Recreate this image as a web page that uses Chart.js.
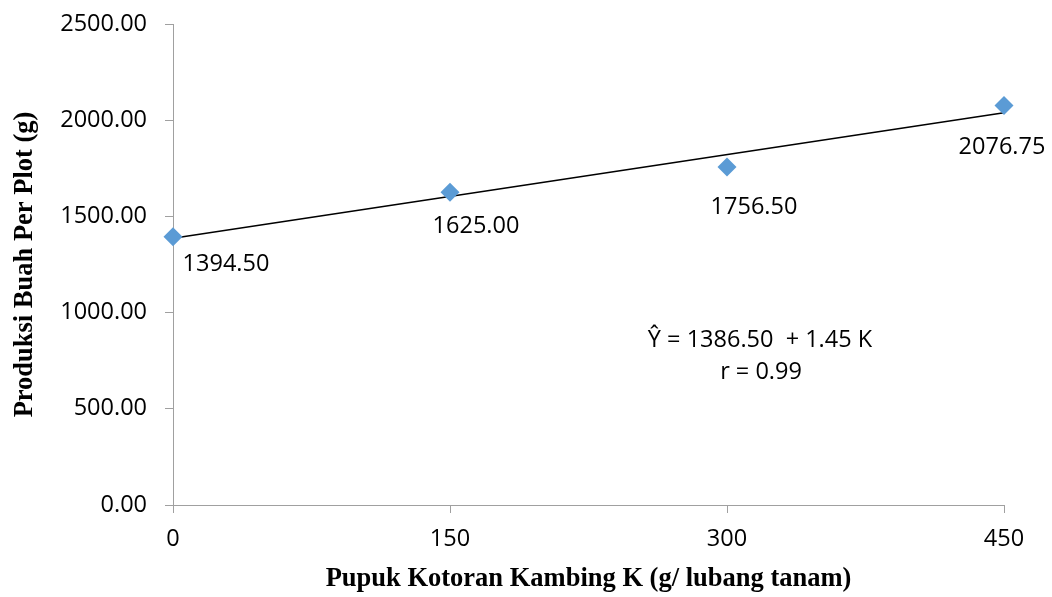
<!DOCTYPE html>
<html>
<head>
<meta charset="utf-8">
<title>Produksi Buah Per Plot</title>
<script src="https://cdn.jsdelivr.net/npm/chart.js@4.4.1/dist/chart.umd.min.js"></script>
<style>
  html, body { margin: 0; padding: 0; background: #ffffff; }
  #wrap { width: 1052px; height: 597px; position: relative; }
</style>
</head>
<body>
<div id="wrap"><canvas id="chart" width="1052" height="597"></canvas></div>
<script>
// Goat manure dose (g per planting hole) and fruit yield per plot (g)
const doses = [0, 150, 300, 450];
const yieldPerPlot = [1394.50, 1625.00, 1756.50, 2076.75];
const yTicks = [0, 500, 1000, 1500, 2000, 2500];
const xTicks = [0, 150, 300, 450];

// Fitted regression line: Y = a + b K
const trendIntercept = 1386.50;
const trendSlope = 1.45;
const equationLines = ['\u0176 = 1386.50  + 1.45 K', 'r = 0.99'];

const axisGray = '#a0a0a0';
const tickFont = { family: "'Open Sans', sans-serif", size: 23.5 };
const titleFont = { family: "'Liberation Serif', 'Times New Roman', serif", size: 26.5, weight: 'bold' };

const points = doses.map((d, i) => ({ x: d, y: yieldPerPlot[i] }));
const trendPoints = [doses[0], doses[doses.length - 1]].map(d => ({ x: d, y: trendIntercept + trendSlope * d }));

// Value labels beside each marker and the regression note
const annotations = {
  id: 'annotations',
  afterDatasetsDraw(chart, args, opts) {
    const ctx = chart.ctx;
    const meta = chart.getDatasetMeta(1);
    ctx.save();
    ctx.font = "23.5px 'Open Sans', sans-serif";
    ctx.fillStyle = '#000';
    ctx.textAlign = 'center';
    ctx.textBaseline = 'middle';
    meta.data.forEach((el, i) => {
      const off = opts.offsets[i];
      ctx.fillText(yieldPerPlot[i].toFixed(2), el.x + off[0], el.y + off[1]);
    });
    equationLines.forEach((t, i) => {
      const p = opts.equationPos[i];
      ctx.fillText(t, p[0], p[1]);
    });
    ctx.restore();
  }
};

new Chart(document.getElementById('chart'), {
  type: 'scatter',
  data: {
    datasets: [
      {
        type: 'line',
        label: 'Trend',
        data: trendPoints,
        borderColor: '#000',
        borderWidth: 1.5,
        pointRadius: 0,
        fill: false,
        clip: false,
        order: 2
      },
      {
        label: 'Produksi',
        data: points,
        pointStyle: 'rectRot',
        pointRadius: 9.5,
        pointHoverRadius: 9.5,
        backgroundColor: '#5b9bd5',
        borderColor: '#5b9bd5',
        borderWidth: 0,
        clip: false,
        order: 1
      }
    ]
  },
  options: {
    responsive: false,
    animation: false,
    layout: { padding: { top: 24, right: 48, left: 0, bottom: 0 } },
    plugins: {
      legend: { display: false },
      tooltip: { enabled: false },
      annotations: {
        offsets: [[53, 28], [26, 34], [27, 40], [-2, 42]],
        equationPos: [[760, 340], [761, 372]]
      }
    },
    scales: {
      x: {
        type: 'linear',
        min: 0,
        max: 450,
        afterBuildTicks: s => { s.ticks = xTicks.map(v => ({ value: v })); },
        afterFit: s => { s.height = 92; },
        ticks: { font: tickFont, color: '#000', padding: 12, maxRotation: 0 },
        grid: { drawOnChartArea: false, drawTicks: true, tickLength: 8, tickColor: axisGray, color: axisGray },
        border: { color: axisGray, width: 1 },
        title: { display: true, text: 'Pupuk Kotoran Kambing K (g/ lubang tanam)', font: titleFont, color: '#000', padding: { top: 0, bottom: 2 } }
      },
      y: {
        min: 0,
        max: 2500,
        afterBuildTicks: s => { s.ticks = yTicks.map(v => ({ value: v })); },
        afterFit: s => { s.width = 173; s.paddingTop = 0; s.paddingBottom = 0; },
        ticks: { font: tickFont, color: '#000', padding: 18, callback: v => Number(v).toFixed(2) },
        grid: { drawOnChartArea: false, drawTicks: true, tickLength: 8, tickColor: axisGray, color: axisGray },
        border: { color: axisGray, width: 1 },
        title: { display: true, text: 'Produksi Buah Per Plot (g)', font: titleFont, color: '#000', padding: { top: 9, bottom: 0 } }
      }
    }
  },
  plugins: [annotations]
});
</script>
</body>
</html>
